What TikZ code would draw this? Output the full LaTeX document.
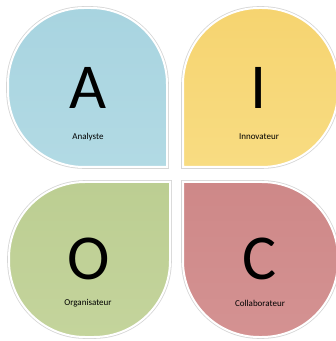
\documentclass[tikz,border=0pt]{standalone}
\usepackage{fontspec}
\setmainfont{Carlito}
\definecolor{cA}{RGB}{168,212,224}
\definecolor{cAb}{RGB}{178,218,228}
\definecolor{cI}{RGB}{246,212,112}
\definecolor{cIb}{RGB}{248,220,130}
\definecolor{cO}{RGB}{188,206,146}
\definecolor{cOb}{RGB}{196,212,156}
\definecolor{cC}{RGB}{206,136,136}
\definecolor{cCb}{RGB}{212,146,146}
\tikzset{
  petal/.style={draw=white, line width=2pt},
  petalshadow/.style={draw=black!16, line width=3.6pt},
  big/.style={font=\fontsize{64}{64}\selectfont, inner sep=0pt, anchor=center},
  small/.style={font=\fontsize{9}{10}\selectfont, inner sep=0pt, anchor=center}
}
\begin{document}
\begin{tikzpicture}[x=1pt,y=1pt]
\useasboundingbox (0,0) rectangle (336,341);
\fill[white] (0,0) rectangle (336,341);
\begin{scope}
\clip (0,0) rectangle (336,341);
\def\r{76}
% top-left (A), square corner bottom-right
\def\pA{(167,174) -- (8+\r,174) arc(270:180:\r) -- (8,333-\r) arc(180:90:\r) -- (167-\r,333) arc(90:0:\r) -- cycle}
% top-right (I), square corner bottom-left
\def\pI{(183,174) -- (183,333-\r) arc(180:90:\r) -- (338-\r,333) arc(90:0:\r) -- (338,174+\r) arc(0:-90:\r) -- cycle}
% bottom-left (O), square corner top-right
\def\pO{(170,159) -- (170,4+\r) arc(0:-90:\r) -- (9+\r,4) arc(270:180:\r) -- (9,159-\r) arc(180:90:\r) -- cycle}
% bottom-right (C), square corner top-left
\def\pC{(183,159) -- (338-\r,159) arc(90:0:\r) -- (338,4+\r) arc(0:-90:\r) -- (183+\r,4) arc(270:180:\r) -- cycle}
\draw[petalshadow] \pA; \shade[top color=cA,bottom color=cAb] \pA; \draw[petal] \pA;
\draw[petalshadow] \pI; \shade[top color=cI,bottom color=cIb] \pI; \draw[petal] \pI;
\draw[petalshadow] \pO; \shade[top color=cO,bottom color=cOb] \pO; \draw[petal] \pO;
\draw[petalshadow] \pC; \shade[top color=cC,bottom color=cCb] \pC; \draw[petal] \pC;
\end{scope}
\node[big] (la) at (88,253) {A};
\node[small] (ta) at (88,204) {Analyste};
\node[big] (li) at (259,253) {I};
\node[small] (ti) at (259,204) {Innovateur};
\node[big] (lo) at (89,82) {O};
\node[small] (to) at (88,38) {Organisateur};
\node[big] (lc) at (260,82) {C};
\node[small] (tc) at (260,38) {Collaborateur};
\end{tikzpicture}
\end{document}
